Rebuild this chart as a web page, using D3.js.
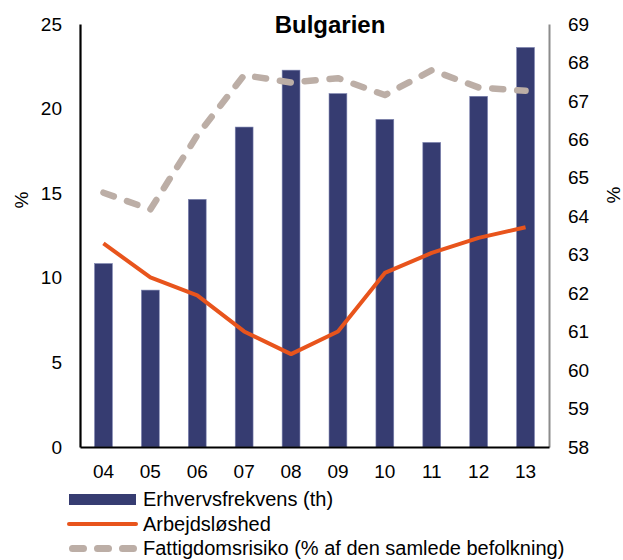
<!DOCTYPE html>
<html>
<head>
<meta charset="utf-8">
<script src="https://cdn.jsdelivr.net/npm/d3@7"></script>
<style>
  body { margin: 0; background: #fff; }
  svg { display: block; font-family: "Liberation Sans", Arial, sans-serif; }
</style>
</head>
<body>
<svg id="chart" width="623" height="560"></svg>
<script>
const title = "Bulgarien";
const years = ["04", "05", "06", "07", "08", "09", "10", "11", "12", "13"];
// Erhvervsfrekvens (right axis, %)
const participation = [62.77, 62.08, 64.44, 66.32, 67.80, 67.19, 66.52, 65.92, 67.12, 68.39];
// Arbejdsløshed (left axis, %)
const unemployment = [12.03, 10.03, 8.96, 6.83, 5.49, 6.83, 10.29, 11.47, 12.36, 12.99];
// Fattigdomsrisiko (left axis, %)
const poverty = [15.03, 14.04, 18.42, 21.98, 21.54, 21.8, 20.8, 22.27, 21.25, 21.05];
const leftTicks = [0, 5, 10, 15, 20, 25];
const rightTicks = [58, 59, 60, 61, 62, 63, 64, 65, 66, 67, 68, 69];
const seriesNames = ["Erhvervsfrekvens (th)", "Arbejdsløshed", "Fattigdomsrisiko (% af den samlede befolkning)"];

const colors = { bar: "#363c71", unemp: "#e8541c", pov: "#bcaea6" };

const svg = d3.select("#chart");
const L = 80, R = 549, T = 24, B = 447;

const x = d3.scaleBand().domain(years).range([L, R]).paddingInner(0.62).paddingOuter(0.31);
const yL = d3.scaleLinear().domain([0, 25]).range([B, T]);
const yR = d3.scaleLinear().domain([58, 69]).range([B, T]);
const cx = d => x(d) + x.bandwidth() / 2;

// Bars
svg.append("g").selectAll("rect").data(years).join("rect")
  .attr("x", d => x(d))
  .attr("width", x.bandwidth())
  .attr("y", (d, i) => yR(participation[i]))
  .attr("height", (d, i) => B - yR(participation[i]))
  .attr("fill", colors.bar)
  .attr("stroke", "#7d84b0")
  .attr("stroke-width", 0.6);

// Poverty dashed line
const lineL = d3.line().x((d, i) => cx(years[i])).y(d => yL(d));
svg.append("path").datum(poverty)
  .attr("d", lineL)
  .attr("fill", "none")
  .attr("stroke", colors.pov)
  .attr("stroke-width", 6.5)
  .attr("stroke-linecap", "round")
  .attr("stroke-linejoin", "round")
  .attr("stroke-dasharray", "11,14");

// Unemployment line
svg.append("path").datum(unemployment)
  .attr("d", lineL)
  .attr("fill", "none")
  .attr("stroke", colors.unemp)
  .attr("stroke-width", 4)
  .attr("stroke-linejoin", "round");

// Axes
const fontSize = "19px";
const gL = svg.append("g").attr("transform", `translate(${L},0)`)
  .call(d3.axisLeft(yL).tickValues(leftTicks).tickSize(0).tickPadding(18).tickFormat(d3.format("d")));
gL.select(".domain").attr("stroke", "#000").attr("stroke-width", 2.2);
gL.selectAll("text").attr("font-size", fontSize).attr("fill", "#000").attr("font-family", "Liberation Sans, Arial, sans-serif");

const gR = svg.append("g").attr("transform", `translate(${R},0)`)
  .call(d3.axisRight(yR).tickValues(rightTicks).tickSize(0).tickPadding(19).tickFormat(d3.format("d")));
gR.select(".domain").attr("stroke", "#8c8c8c").attr("stroke-width", 2);
gR.selectAll("text").attr("font-size", fontSize).attr("fill", "#000").attr("font-family", "Liberation Sans, Arial, sans-serif");

const gB = svg.append("g").attr("transform", `translate(0,${B})`)
  .call(d3.axisBottom(x).tickSize(0).tickPadding(18));
gB.select(".domain").attr("stroke", "#000").attr("stroke-width", 2.2);
gB.selectAll("text").attr("font-size", fontSize).attr("fill", "#000").attr("font-family", "Liberation Sans, Arial, sans-serif");

// Axis titles
svg.append("text").attr("transform", "translate(21,200) rotate(-90)")
  .attr("text-anchor", "middle").attr("dy", "0.35em").attr("font-size", fontSize).text("%");
svg.append("text").attr("transform", "translate(613,195) rotate(-90)")
  .attr("text-anchor", "middle").attr("dy", "0.35em").attr("font-size", fontSize).text("%");

// Title
svg.append("text").attr("x", 330).attr("y", 33)
  .attr("text-anchor", "middle").attr("font-size", "24px").attr("font-weight", "bold")
  .text(title);

// Legend
const lg = svg.append("g");
const rowY = [499.5, 524, 548.5];
const sw0 = 69, sw1 = 136;
lg.append("rect").attr("x", sw0).attr("y", rowY[0] - 5.5).attr("width", sw1 - sw0).attr("height", 11).attr("fill", colors.bar);
lg.append("line").attr("x1", sw0).attr("x2", sw1).attr("y1", rowY[1]).attr("y2", rowY[1])
  .attr("stroke", colors.unemp).attr("stroke-width", 4).attr("stroke-linecap", "round");
lg.append("line").attr("x1", sw0 + 3.5).attr("x2", sw1).attr("y1", rowY[2]).attr("y2", rowY[2])
  .attr("stroke", colors.pov).attr("stroke-width", 7).attr("stroke-linecap", "round").attr("stroke-dasharray", "11,14");
lg.selectAll("text.lab").data(seriesNames).join("text")
  .attr("class", "lab")
  .attr("x", 143)
  .attr("y", (d, i) => rowY[i] + 6.5)
  .attr("font-size", "20px")
  .attr("fill", "#000")
  .text(d => d);
</script>
</body>
</html>
